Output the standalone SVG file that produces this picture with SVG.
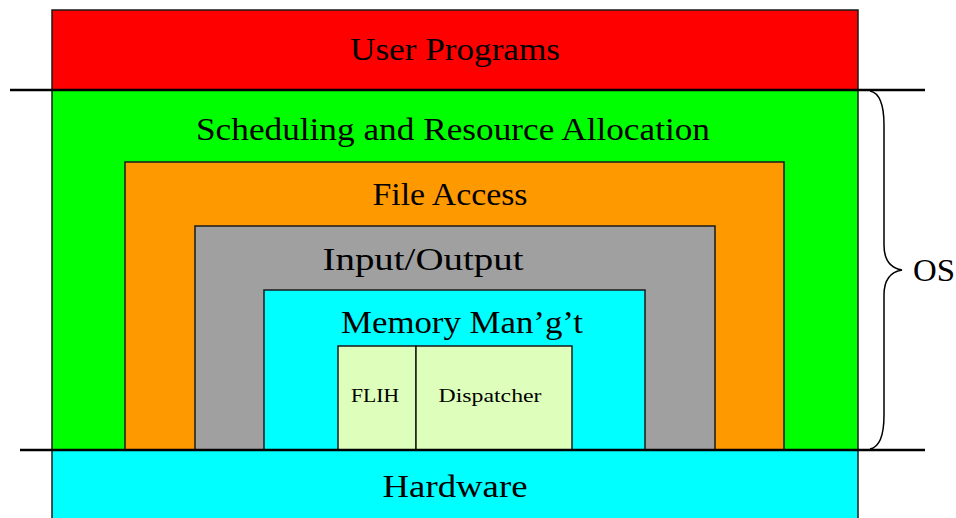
<svg xmlns="http://www.w3.org/2000/svg" width="956" height="518" viewBox="0 0 956 518">
<style>
.box{stroke:#1a1a1a;stroke-width:1.5}
.t{font-family:"Liberation Serif","Times New Roman",serif;font-size:31px;fill:#000;text-anchor:middle}
.s{font-family:"Liberation Serif","Times New Roman",serif;font-size:19px;fill:#000;text-anchor:middle}
.ln{stroke:#000;stroke-width:2.5;fill:none}
</style>
<rect width="956" height="518" fill="#fff"/>
<g id="user-programs">
<rect class="box" x="52" y="10" width="806" height="80" fill="#ff0000"/>
<text class="t" x="455" y="60" textLength="210" lengthAdjust="spacingAndGlyphs">User Programs</text>
</g>
<g id="scheduling">
<rect class="box" x="52" y="90" width="806" height="360" fill="#00ff00"/>
<text class="t" x="453" y="140" textLength="514" lengthAdjust="spacingAndGlyphs">Scheduling and Resource Allocation</text>
</g>
<g id="file-access">
<rect class="box" x="125" y="162" width="659" height="288" fill="#ff9900"/>
<text class="t" x="450" y="205" textLength="155" lengthAdjust="spacingAndGlyphs">File Access</text>
</g>
<g id="input-output">
<rect class="box" x="195" y="226" width="520" height="224" fill="#a0a0a0"/>
<text class="t" x="423" y="270" textLength="201" lengthAdjust="spacingAndGlyphs">Input/Output</text>
</g>
<g id="memory">
<rect class="box" x="264" y="290" width="381" height="160" fill="#00ffff"/>
<text class="t" x="462" y="333" textLength="242" lengthAdjust="spacingAndGlyphs">Memory Man’g’t</text>
</g>
<g id="flih">
<rect class="box" x="338" y="346" width="78" height="104" fill="#ddffbb"/>
<text class="s" x="375" y="402" textLength="48" lengthAdjust="spacingAndGlyphs">FLIH</text>
</g>
<g id="dispatcher">
<rect class="box" x="416" y="346" width="156" height="104" fill="#ddffbb"/>
<text class="s" x="490" y="402" textLength="103" lengthAdjust="spacingAndGlyphs">Dispatcher</text>
</g>
<g id="hardware">
<rect class="box" x="52" y="450" width="806" height="80" fill="#00ffff"/>
<text class="t" x="455" y="497" textLength="145" lengthAdjust="spacingAndGlyphs">Hardware</text>
</g>
<g id="connectors">
<line class="ln" x1="10" y1="90" x2="925" y2="90"/>
<line class="ln" x1="20" y1="450" x2="925" y2="450"/>
</g>
<g id="os">
<path d="M870,91 C880,93 884,105 884,125 L884,245 C884,260 890,268 902,270 C890,272 884,280 884,295 L884,415 C884,435 880,447 870,449" fill="none" stroke="#000" stroke-width="1.5"/>
<text class="t" x="934" y="281" textLength="42" lengthAdjust="spacingAndGlyphs">OS</text>
</g>
</svg>
